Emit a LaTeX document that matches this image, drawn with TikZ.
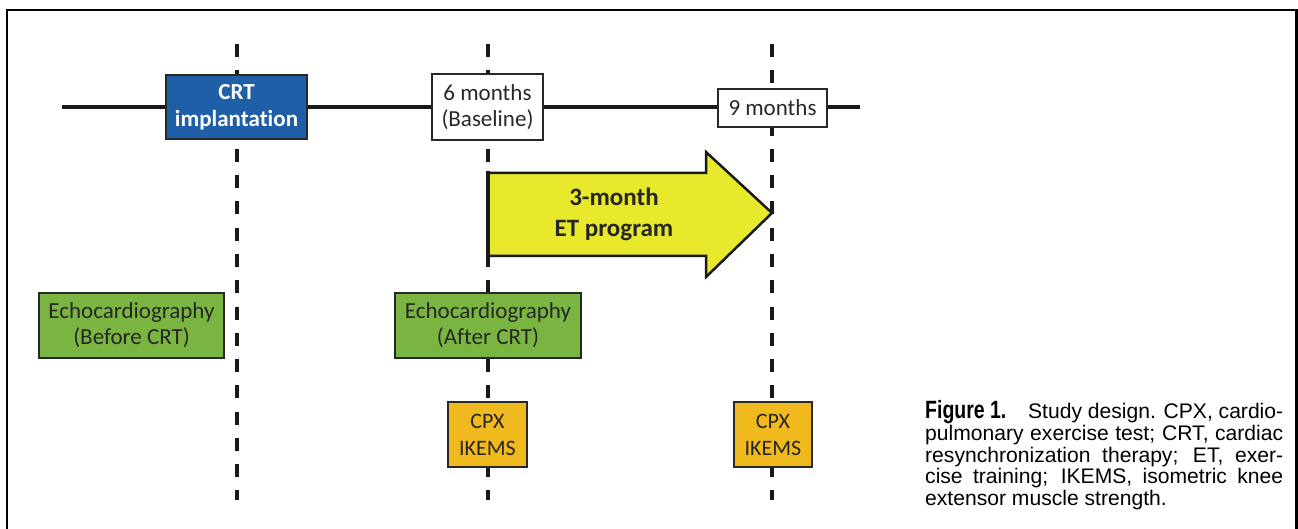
\documentclass[tikz,border=0pt]{standalone}
\usepackage{fontspec}
\setmainfont{Liberation Sans}
\newfontfamily\carl[Ligatures=NoCommon]{Carlito}
\newfontfamily\capfont{Liberation Sans}
\newfontfamily\figfont[FakeStretch=0.78]{Liberation Sans}
\definecolor{crtblue}{RGB}{30,95,168}
\definecolor{echogreen}{RGB}{122,181,66}
\definecolor{etyellow}{RGB}{232,232,44}
\definecolor{cpxgold}{RGB}{240,186,30}
\definecolor{boxline}{RGB}{40,40,40}
\definecolor{txtdark}{RGB}{40,40,40}
\begin{document}
\begin{tikzpicture}[x=1pt,y=-1pt,
  boxbase/.style={draw=boxline,line width=2pt,inner sep=0pt,align=center,font=\carl\fontsize{23}{26}\selectfont},
  crtbox/.style={boxbase,fill=crtblue,text=white,font=\carl\bfseries\fontsize{23}{27}\selectfont},
  timebox/.style={boxbase,fill=white,text=txtdark},
  echobox/.style={boxbase,fill=echogreen,text=black!85},
  cpxbox/.style={boxbase,fill=cpxgold,text=black!85,font=\carl\fontsize{22}{27}\selectfont},
  dashline/.style={line width=4pt,black!90,dash pattern=on 13pt off 13.25pt},
  tline/.style={line width=3.5pt,black!90},
  arrowfill/.style={draw=black!90,line width=2.5pt,fill=etyellow,line join=miter},
  frameline/.style={line width=2.5pt,black},
  capline/.style={anchor=base west,inner sep=0pt,font=\capfont\fontsize{21.1}{21.1}\selectfont}
]
\useasboundingbox (0,0) rectangle (1298,529);
% frame
\draw[frameline] (7,531) -- (7,10) -- (1296.5,10) -- (1296.5,531);

% timeline
\coordinate (tlstart) at (62,107);
\coordinate (tlend) at (860,107);
\draw[tline] (tlstart) -- (tlend);

% dashed lines
\coordinate (d1t) at (237,44);  \coordinate (d1b) at (237,500);
\coordinate (d2t) at (488,44);  \coordinate (d2b) at (488,500);
\coordinate (d3t) at (772,44);  \coordinate (d3b) at (772,500);
\draw[dashline] (d1t) -- (d1b);
\draw[dashline] (d2t) -- (d2b);
\draw[dashline] (d3t) -- (d3b);

% arrow
\coordinate (arstart) at (488,213);
\coordinate (artip) at (772,213);
\draw[arrowfill] (488,173) -- (706,173) -- (706,152) -- (artip) -- (706,277) -- (706,256) -- (488,256) -- cycle;
\draw[line width=4pt,black!90] (488,171) -- (488,258);
\node[align=center,font=\carl\bfseries\fontsize{25}{31}\selectfont,text=black!85] (et) at (614,214) {3-month\\ET program};

% boxes
\node[crtbox,minimum width=141pt,minimum height=64pt] (crt) at (236.5,107) {CRT\\implantation};
\node[timebox,minimum width=111pt,minimum height=66pt] (six) at (487.5,107) {6 months\\(Baseline)};
\node[timebox,minimum width=109pt,minimum height=38pt] (nine) at (772.5,108) {9 months};
\node[echobox,minimum width=185pt,minimum height=65pt] (echo1) at (131.5,325.5) {Echocardiography\\(Before CRT)};
\node[echobox,minimum width=186pt,minimum height=65pt] (echo2) at (488,325.5) {Echocardiography\\(After CRT)};
\node[cpxbox,minimum width=79pt,minimum height=65pt] (cpx1) at (487.5,434.5) {CPX\\IKEMS};
\node[cpxbox,minimum width=78pt,minimum height=65pt] (cpx2) at (773,434.5) {CPX\\IKEMS};

% caption
\node[capline] (cap1) at (925,418) {\makebox[358pt][s]{{\figfont\bfseries\fontsize{25}{25}\selectfont Figure 1.}\hspace{14pt} Study design. CPX, cardio-}};
\node[capline] (cap2) at (925,440) {\makebox[358pt][s]{pulmonary exercise test; CRT, cardiac}};
\node[capline] (cap3) at (925,462) {\makebox[358pt][s]{resynchronization therapy; ET, exer-}};
\node[capline] (cap4) at (925,483.5) {\makebox[358pt][s]{cise training; IKEMS, isometric knee}};
\node[capline] (cap5) at (925,505) {extensor muscle strength.};
\end{tikzpicture}
\end{document}
